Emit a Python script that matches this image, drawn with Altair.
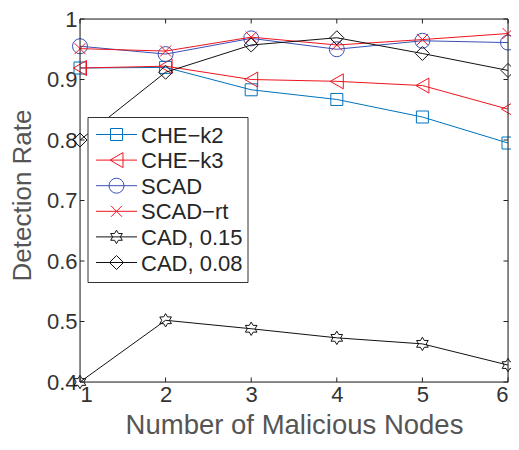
import math
import altair as alt
import pandas as pd

# ---------------- data ----------------
x_nodes = [1, 2, 3, 4, 5, 6]
series_names = ["CHE\u2212k2", "CHE\u2212k3", "SCAD", "SCAD\u2212rt", "CAD, 0.15", "CAD, 0.08"]
che_k2 = [0.919, 0.920, 0.883, 0.867, 0.838, 0.795]
che_k3 = [0.919, 0.922, 0.900, 0.897, 0.890, 0.851]
scad = [0.955, 0.942, 0.968, 0.950, 0.964, 0.961]
scad_rt = [0.951, 0.947, 0.970, 0.957, 0.966, 0.976]
cad_015 = [0.400, 0.502, 0.488, 0.473, 0.463, 0.428]
cad_008 = [0.800, 0.912, 0.957, 0.969, 0.943, 0.915]
all_values = [che_k2, che_k3, scad, scad_rt, cad_015, cad_008]

x_ticks = [1, 2, 3, 4, 5, 6]
y_ticks = [0.4, 0.5, 0.6, 0.7, 0.8, 0.9, 1.0]

# ---------------- style ----------------
colors = ["#0072BD", "#F0141E", "#3A50B4", "#F0141E", "#111111", "#111111"]


def hexagram_path():
    pts = []
    for k in range(12):
        ang = math.radians(-90 + 30 * k)
        r = 1.0 if k % 2 == 0 else 1.0 / math.sqrt(3)
        pts.append((r * math.cos(ang), r * math.sin(ang)))
    return "M" + "L".join(f"{px:.3f},{py:.3f}" for px, py in pts) + "Z"


shapes = ["square", "triangle-left", "circle", "M-1,-1L1,1M-1,1L1,-1", hexagram_path(), "diamond"]
sizes = [144, 225, 225, 121, 180, 196]

W, H = 428, 363
FONT = "Liberation Sans"

rows = []
for name, vals in zip(series_names, all_values):
    for xv, yv in zip(x_nodes, vals):
        rows.append({"series": name, "x": xv, "y": yv})
df = pd.DataFrame(rows)

xscale = alt.Scale(domain=[1, 6], nice=False, zero=False)
yscale = alt.Scale(domain=[0.4, 1.0], nice=False, zero=False)

xaxis = alt.Axis(values=x_ticks, format="d", ticks=False, grid=False, domain=False,
                 labelFontSize=22, labelColor="#333333", labelPadding=2, labelFont=FONT,
                 title="Number of Malicious Nodes", titleFontSize=27.5, titleFont=FONT,
                 titleColor="#555555", titleFontWeight="normal", titleY=51, titleBaseline="alphabetic")
yaxis = alt.Axis(values=y_ticks, labelExpr="datum.value == 1 ? '1' : format(datum.value, '.1f')",
                 ticks=False, grid=False, domain=False,
                 labelFontSize=22, labelColor="#333333", labelPadding=3, labelFont=FONT,
                 title="Detection Rate", titleFontSize=26, titleFont=FONT,
                 titleColor="#555555", titleFontWeight="normal", titleX=-50, titleY=176,
                 titleBaseline="alphabetic", titleAngle=270)


def X(field):
    return alt.X(field, scale=xscale, axis=xaxis)


def Y(field):
    return alt.Y(field, scale=yscale, axis=yaxis)


layers = []
for i, name in enumerate(series_names):
    sub = df[df.series == name]
    base = alt.Chart(sub)
    layers.append(base.mark_line(color=colors[i], strokeWidth=1).encode(x=X("x:Q"), y=Y("y:Q")))
    layers.append(base.mark_point(shape=shapes[i], size=sizes[i], color=colors[i],
                                  filled=False, strokeWidth=1, opacity=1).encode(
        x=X("x:Q"), y=Y("y:Q")))

# frame
one = pd.DataFrame({"a": [0]})
frame_col = "#222222"
layers.append(alt.Chart(one).mark_rect(fill=None, stroke=frame_col, strokeWidth=1).encode(
    x=alt.value(0), x2=alt.value(W), y=alt.value(0), y2=alt.value(H)))

# inward ticks on all four sides
xt = pd.DataFrame({"x": x_ticks})
yt = pd.DataFrame({"y": y_ticks})
TL = 4.5
layers.append(alt.Chart(xt).mark_rule(color=frame_col, strokeWidth=1).encode(
    x=X("x:Q"), y=alt.value(H), y2=alt.value(H - TL)))
layers.append(alt.Chart(xt).mark_rule(color=frame_col, strokeWidth=1).encode(
    x=X("x:Q"), y=alt.value(0), y2=alt.value(TL)))
layers.append(alt.Chart(yt).mark_rule(color=frame_col, strokeWidth=1).encode(
    y=Y("y:Q"), x=alt.value(0), x2=alt.value(TL)))
layers.append(alt.Chart(yt).mark_rule(color=frame_col, strokeWidth=1).encode(
    y=Y("y:Q"), x=alt.value(W), x2=alt.value(W - TL)))

# legend
layers.append(alt.Chart(one).mark_rect(fill="white", stroke="#333333", strokeWidth=1).encode(
    x=alt.value(8), x2=alt.value(168), y=alt.value(98.5), y2=alt.value(263.5)))
leg_y0, leg_dy = 115.5, 25.6
for i, name in enumerate(series_names):
    ly = leg_y0 + i * leg_dy
    layers.append(alt.Chart(one).mark_rule(color=colors[i], strokeWidth=1).encode(
        x=alt.value(16), x2=alt.value(57), y=alt.value(ly)))
    layers.append(alt.Chart(one).mark_point(shape=shapes[i], size=sizes[i], color=colors[i],
                                            filled=False, strokeWidth=1, opacity=1).encode(
        x=alt.value(36.5), y=alt.value(ly)))
    layers.append(alt.Chart(one).mark_text(text=name, align="left", baseline="middle",
                                           fontSize=22, font=FONT, color="#262626").encode(
        x=alt.value(61), y=alt.value(ly + 1)))

chart = alt.layer(*layers).properties(
    width=W, height=H,
    autosize=alt.AutoSizeParams(type="none"),
    padding={"left": 72, "top": 11, "right": 3, "bottom": 58},
).configure_view(stroke=None).configure(background="white")

chart.save("out.html", embed_options={"renderer": "svg", "actions": False})
